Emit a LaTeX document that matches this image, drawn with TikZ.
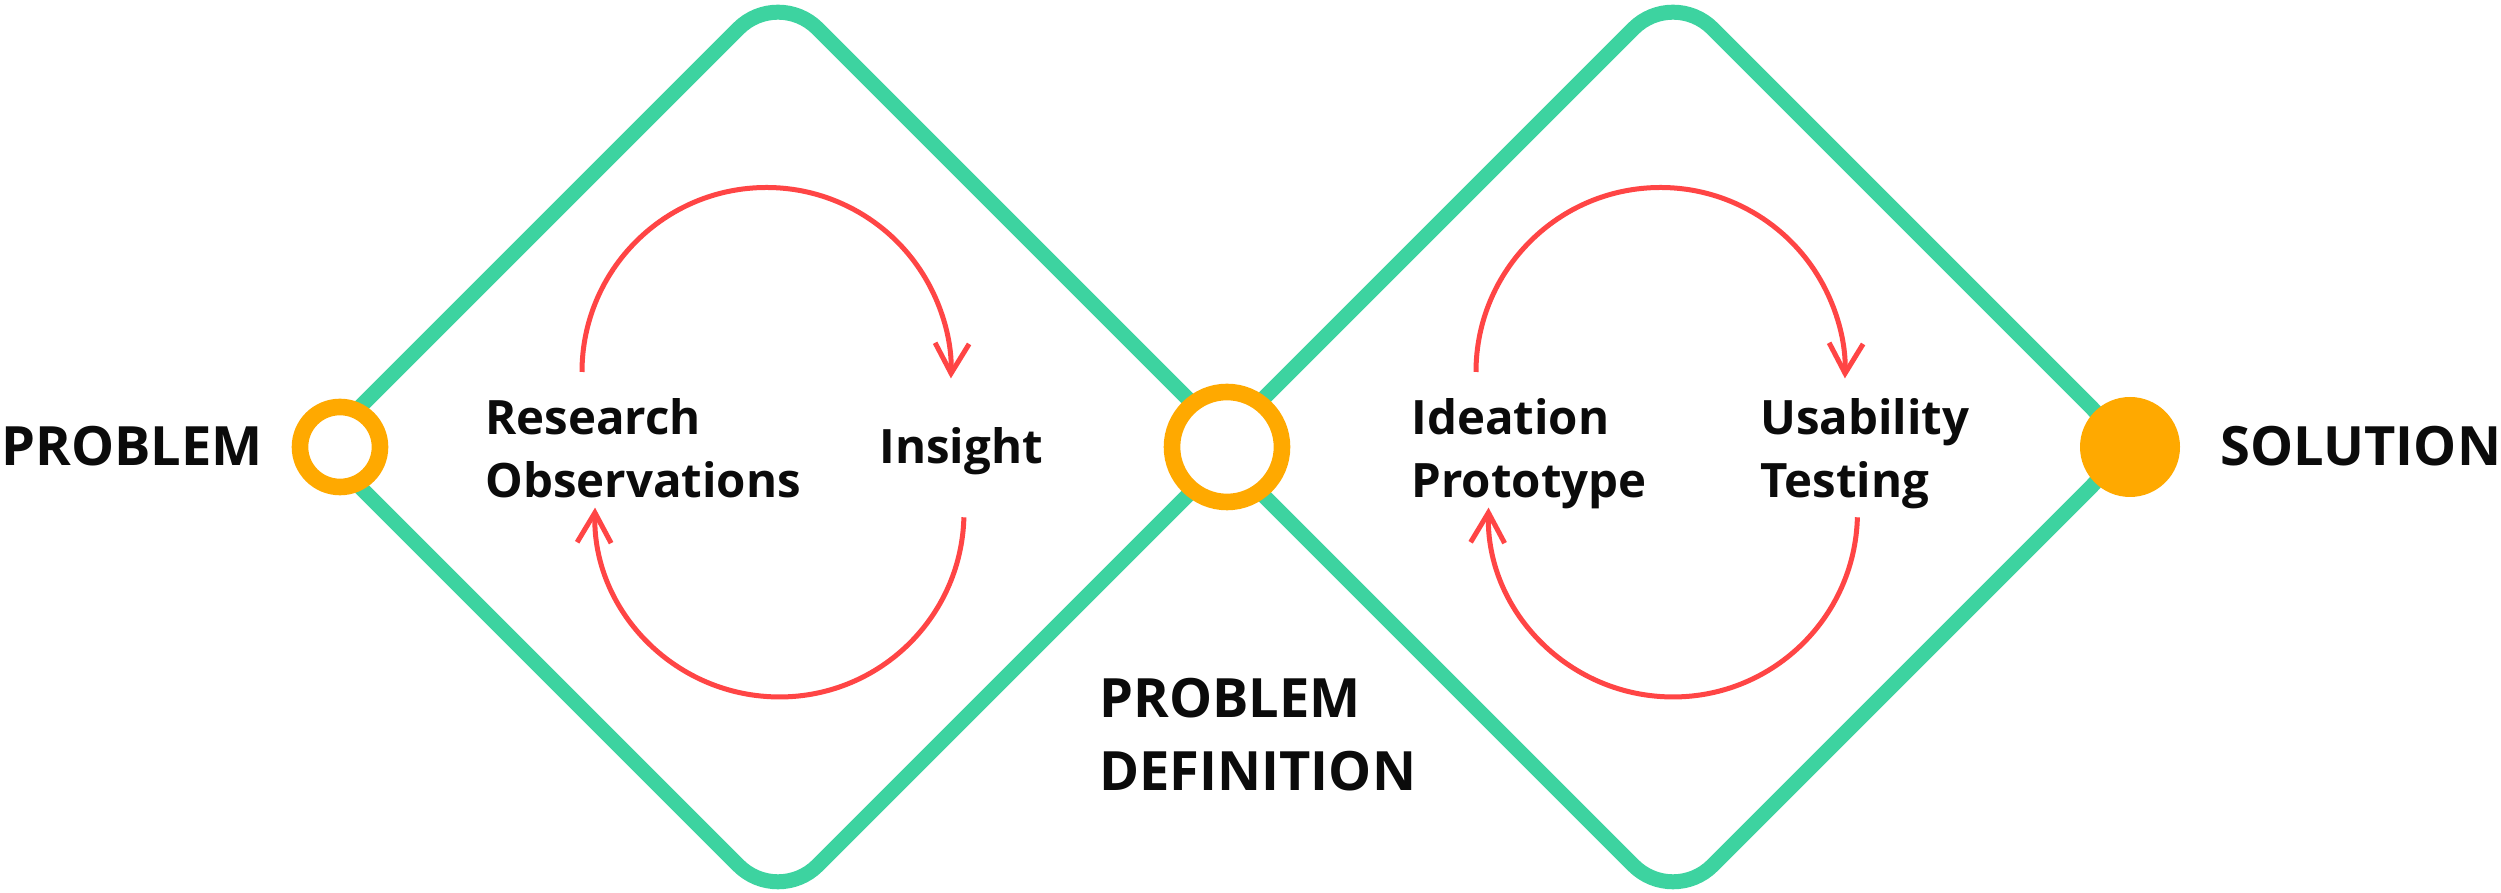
\documentclass[tikz,border=0pt]{standalone}
\usepackage{fontspec}
\setmainfont{Open Sans}
\usetikzlibrary{arrows.meta}
\definecolor{dgreen}{HTML}{3DD3A0}
\definecolor{dorange}{HTML}{FFA900}
\definecolor{dred}{HTML}{FF4545}
\definecolor{dtext}{HTML}{0B0B0B}
\begin{document}
\begin{tikzpicture}[x=0.5pt,y=0.5pt,
  diamondline/.style={draw=dgreen,line width=7.5pt,rounded corners=28pt},
  loopline/.style={draw=dred,line width=2.5pt,-{Straight Barb[length=15pt,width=17pt]}},
  ring/.style={circle,draw=dorange,line width=8.3pt,fill=white,inner sep=0pt},
  lbl/.style={text=dtext,font=\bfseries\fontsize{23.7pt}{31.5pt}\selectfont,align=left,inner sep=0pt,anchor=base west},
  biglbl/.style={text=dtext,font=\bfseries\fontsize{27.1pt}{36.5pt}\selectfont,align=left,inner sep=0pt,anchor=base west}]
\useasboundingbox[fill=white] (0,0) rectangle (2501,893);
% diamonds
\draw[diamondline] (549,675) -- (778,904) -- (1236,446) -- (778,-12) -- (320,446) -- cycle;
\draw[diamondline] (1444,675) -- (1673,904) -- (2131,446) -- (1673,-12) -- (1215,446) -- cycle;
% milestones
\node[ring,minimum size=40pt] (problemdot) at (340,446) {};
\node[ring,minimum size=55pt] (defdot) at (1227,446) {};
\node[circle,fill=dorange,inner sep=0pt,minimum size=50pt] (soldot) at (2130,446) {};
% loops
\coordinate (la) at (582,521);
\coordinate (lb) at (963.9,375.7);
\coordinate (ra) at (1476,521);
\coordinate (rb) at (1857.4,375.7);
\draw[loopline] (la) arc[start angle=180,end angle=-2,radius=92.25pt];
\draw[loopline] (lb) arc[start angle=-1.5,end angle=-181.5,radius=92.25pt];
\draw[loopline] (ra) arc[start angle=180,end angle=-2,radius=92.25pt];
\draw[loopline] (rb) arc[start angle=-1.5,end angle=-181.5,radius=92.25pt];
% labels
\node[biglbl] (problem) at (1,427) {PROBLEM};
\node[lbl] (research) at (485,395) {Research\\Observations};
\node[lbl] (insight) at (879,429) {Insight};
\node[biglbl] (definition) at (1099,102) {PROBLEM\\DEFINITION};
\node[lbl] (ideation) at (1411,395) {Ideation\\Prototype};
\node[lbl] (usability) at (1760,395) {Usability\\Testing};
\node[biglbl] (solution) at (2220,427) {SOLUTION};
\end{tikzpicture}
\end{document}
